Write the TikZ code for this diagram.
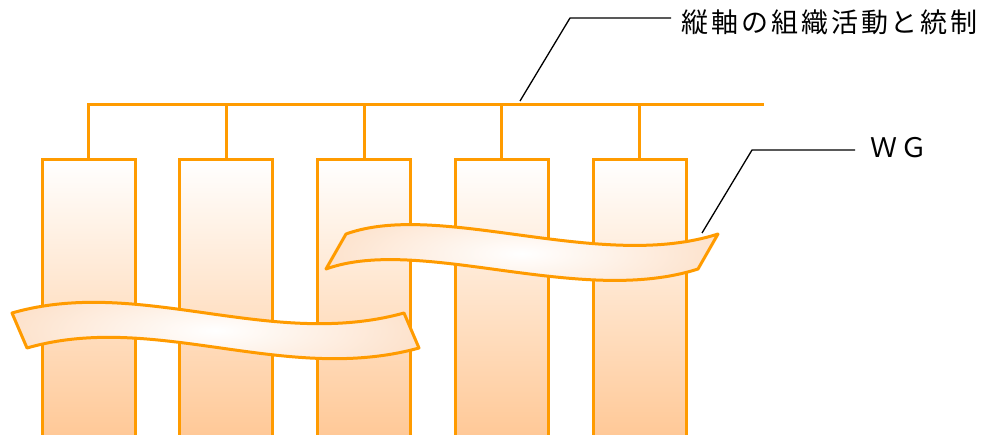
\documentclass[tikz,border=0pt]{standalone}
\usepackage{fontspec}
\usepackage{tikz}
\usetikzlibrary{positioning, calc}
\newfontfamily\jpfont[LetterSpace=11]{Noto Sans CJK JP}
\definecolor{wgorange}{RGB}{255,155,0}
\definecolor{wgpeach}{RGB}{255,200,150}
\definecolor{wglight}{RGB}{253,226,204}

\begin{document}
\begin{tikzpicture}[x=1pt, y=-1pt,
    bar/.style={draw=wgorange, line width=3pt, rectangle, minimum width=93pt, minimum height=280pt, top color=white, bottom color=wgpeach, anchor=north, inner sep=0pt},
    link/.style={draw=wgorange, line width=3pt},
    ribbon/.style={draw=wgorange, line width=3pt, line join=round, inner color=white, outer color=wglight},
    leader/.style={draw=black, line width=1.3pt},
    label/.style={font=\jpfont\fontsize{27}{30}\selectfont, anchor=west, inner sep=0pt}]
    \clip (0,0) rectangle (992,434);

    % Columns
    \foreach \i in {0,...,4}
        \node[bar] (bar\i) at ({88.5+137.8*\i},158) {};

    % Top rail
    \coordinate (railend) at (764,104);
    \draw[link] (bar0.north) |- (railend);
    \foreach \i in {1,...,4}
        \draw[link] (bar\i.north) -- (bar\i.north |- railend);

    % Ribbons
    \shade[ribbon] (12,313) .. controls (140,276) and (270,350) .. (404,313)
        -- (419,348) .. controls (285,385) and (155,311) .. (27,348) -- cycle;
    \shade[ribbon] (346,234) .. controls (440,200) and (600,272) .. (718,234)
        -- (698,269) .. controls (580,307) and (420,235) .. (326,269) -- cycle;

    % Labels
    \node[label] (axis) at (681,22) {縦軸の組織活動と統制};
    \node[label] (wg) at (870,148) {ＷＧ};

    % Leader lines
    \coordinate (axisfoot) at (520,101);
    \coordinate (wgfoot) at (702,233);
    \draw[leader] (axisfoot) -- (570,18) -- ($(axis.west)+(-10,-4)$);
    \draw[leader] (wgfoot) -- (752,150) -- ($(wg.west)+(-15,2)$);
\end{tikzpicture}
\end{document}
